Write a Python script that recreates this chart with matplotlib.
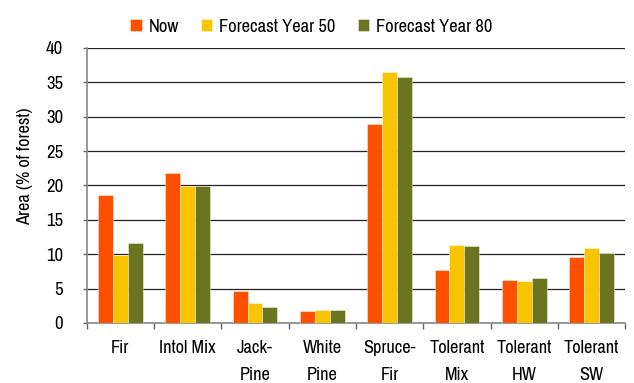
import numpy as np
import matplotlib
matplotlib.use("Agg")
import matplotlib.pyplot as plt
from matplotlib import font_manager

categories = ["Fir", "Intol Mix", "Jack-\nPine", "White\nPine", "Spruce-\nFir",
              "Tolerant\nMix", "Tolerant\nHW", "Tolerant\nSW"]
now = [18.6, 21.8, 4.7, 1.75, 29.0, 7.7, 6.2, 9.6]
year50 = [9.9, 19.9, 2.9, 1.85, 36.5, 11.4, 6.15, 10.9]
year80 = [11.6, 19.9, 2.3, 1.85, 35.8, 11.2, 6.55, 10.2]
series_names = ["Now", "Forecast Year 50", "Forecast Year 80"]
colors = ["#FF5000", "#F9C400", "#6B7520"]
yticks = [0, 5, 10, 15, 20, 25, 30, 35, 40]

# prefer a narrow sans face if one is installed
narrow = None
for f in font_manager.fontManager.ttflist:
    if ("Narrow" in f.name or "Condensed" in f.name) and "Mono" not in f.name \
            and "Serif" not in f.name:
        narrow = f.name
        break
if narrow:
    family = [narrow, "DejaVu Sans"]
    scale = 1.0
else:
    family = ["Roboto", "DejaVu Sans"]
    scale = 0.82
plt.rcParams["font.family"] = family

fig = plt.figure(figsize=(6.34, 3.83), dpi=100)
ax = fig.add_axes([0.1367, 0.1567, 0.9862 - 0.1367, 0.8747 - 0.1567])

x = np.arange(len(categories))
w = 0.222
for i, (vals, name, c) in enumerate(zip([now, year50, year80], series_names, colors)):
    ax.bar(x + (i - 1) * w, vals, width=w, color=c, label=name,
           edgecolor=(1, 1, 1, 0.5), linewidth=0.6, zorder=3)

ax.set_xlim(-0.5, len(categories) - 0.5)
ax.set_ylim(0, 40)
ax.set_yticks(yticks)
ax.set_yticklabels([str(t) for t in yticks], fontsize=13.5 * scale)
ax.yaxis.grid(True, color="#222222", linewidth=0.9, zorder=0)
ax.set_axisbelow(True)

ax.set_xticks(x)
ax.set_xticklabels(categories, fontsize=13.2 * scale, linespacing=1.9)
ax.tick_params(axis="x", length=0, pad=12)
ax.set_xticks(np.arange(len(categories) + 1) - 0.5, minor=True)
ax.tick_params(axis="x", which="minor", length=4, color="#666666", width=1.0)
ax.tick_params(axis="y", length=3, color="#666666", width=1.0, pad=14)

for s in ["top", "right"]:
    ax.spines[s].set_visible(False)
for s in ["left", "bottom"]:
    ax.spines[s].set_color("#888888")
    ax.spines[s].set_linewidth(1.2)

ax.set_ylabel("Area (% of forest)", fontsize=13.2 * scale)
ax.yaxis.set_label_coords(-0.10, 0.571)

fig.legend(loc="center", bbox_to_anchor=(0.491, 0.93), ncol=3,
           frameon=False, fontsize=13.3 * scale, handlelength=0.6, handleheight=0.6,
           handletextpad=0.38, columnspacing=1.2, borderpad=0.0)

fig.savefig("out.png", dpi=100)
